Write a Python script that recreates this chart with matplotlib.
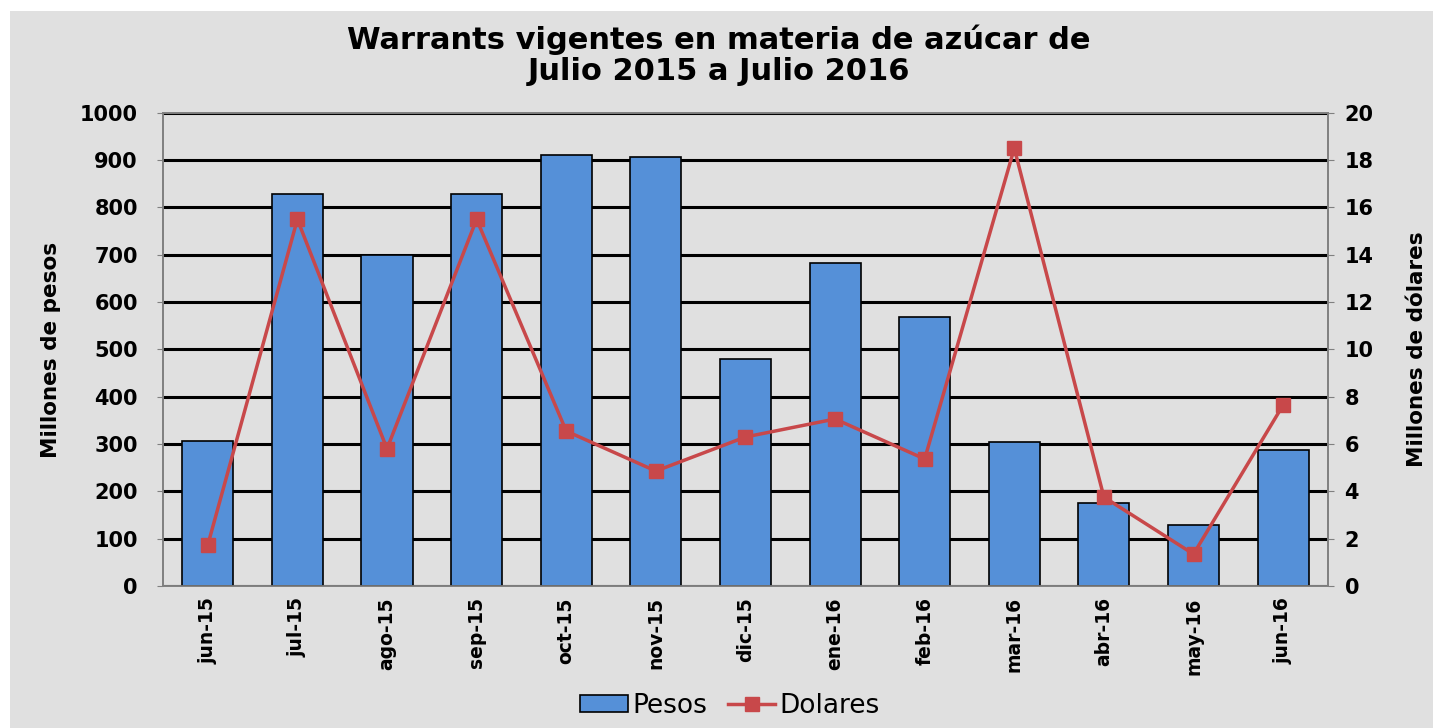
import matplotlib.pyplot as plt
import numpy as np

meses = ["jun-15", "jul-15", "ago-15", "sep-15", "oct-15", "nov-15", "dic-15",
         "ene-16", "feb-16", "mar-16", "abr-16", "may-16", "jun-16"]
pesos = [306, 829, 700, 829, 911, 907, 480, 683, 569, 304, 175, 129, 288]
dolares = [1.73, 15.5, 5.8, 15.5, 6.55, 4.86, 6.3, 7.06, 5.37, 18.5, 3.76, 1.35, 7.65]

plt.rcParams["font.family"] = ["DejaVu Sans"]

fig = plt.figure(figsize=(14.37, 7.28), dpi=100)
fig.patch.set_facecolor("white")
# marble-ish backdrop, flat grey
fig.patches.append(plt.Rectangle((0.007, 0.0), 0.99, 0.985, transform=fig.transFigure,
                                 facecolor="#e0e0e0", edgecolor="none", zorder=-10))

ax = fig.add_axes([0.1134, 0.195, 0.8107, 0.650])
ax.set_facecolor("none")
x = np.arange(len(meses))
bars = ax.bar(x, pesos, width=0.57, color="#5590d8", edgecolor="black", linewidth=1.2,
              label="Pesos", zorder=3)
ax.set_xlim(-0.5, len(meses) - 0.5)
ax.set_ylim(0, 1000)
ax.set_yticks(range(0, 1001, 100))
ax.yaxis.grid(True, color="black", linewidth=2.2, zorder=1)
ax.set_axisbelow(True)
ax.set_xticks(x)
ax.set_xticklabels(meses, rotation=90, fontsize=13.5, fontweight="bold")
for lbl in ax.get_yticklabels():
    lbl.set_fontsize(15)
    lbl.set_fontweight("bold")
ax.tick_params(axis="x", length=0, pad=8)
ax.tick_params(axis="y", length=4, color="#808080", pad=14)
ax.set_ylabel("Millones de pesos", fontsize=15.5, fontweight="bold", labelpad=14)
for side in ["left", "right", "top", "bottom"]:
    ax.spines[side].set_color("#808080")
    ax.spines[side].set_linewidth(1.2)

ax2 = ax.twinx()
line, = ax2.plot(x, dolares, color="#c8484a", linewidth=2.5, marker="s", markersize=10,
                 markerfacecolor="#c8484a", markeredgecolor="#c8484a", label="Dolares", zorder=4)
ax2.set_ylim(0, 20)
ax2.set_yticks(range(0, 21, 2))
for lbl in ax2.get_yticklabels():
    lbl.set_fontsize(15)
    lbl.set_fontweight("bold")
ax2.tick_params(axis="y", length=4, color="#808080", pad=8)
ax2.set_ylabel("Millones de dólares", fontsize=15.5, fontweight="bold", labelpad=24)
for side in ["left", "right", "top", "bottom"]:
    ax2.spines[side].set_color("#808080")
    ax2.spines[side].set_linewidth(1.2)

fig.suptitle("Warrants vigentes en materia de azúcar de\nJulio 2015 a Julio 2016",
             fontsize=22, fontweight="bold", y=0.966, linespacing=1.08)

fig.legend([bars, line], ["Pesos", "Dolares"], loc="center", bbox_to_anchor=(0.508, 0.03),
           ncol=2, frameon=False, fontsize=19, handlelength=1.8, handleheight=0.6,
           handletextpad=0.15, columnspacing=0.8)

fig.savefig("out.png", dpi=100)
